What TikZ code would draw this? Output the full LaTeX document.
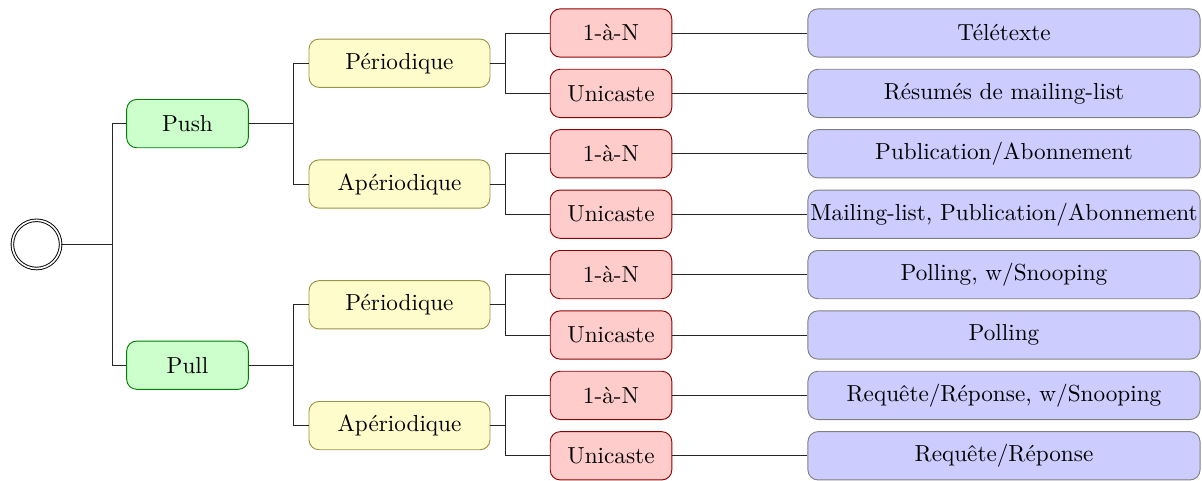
\documentclass[tikz,border=0pt]{standalone}
\usepackage{fontspec}
\begin{document}
\begin{tikzpicture}[x=0.431pt,y=-0.431pt,
  base/.style={rectangle,rounded corners=4.3pt,minimum height=20.8pt,inner sep=1pt,line width=0.4pt},
  lvlone/.style={base,fill=green!20,draw=green!50!black,minimum width=52.4pt},
  lvltwo/.style={base,fill=yellow!20,draw=yellow!55!black,minimum width=78pt},
  lvlthree/.style={base,fill=red!20,draw=red!55!black,minimum width=52.4pt},
  lvlfour/.style={base,fill=blue!20,draw=black!50,minimum width=169pt},
  conn/.style={draw=black!85,line width=0.4pt}]
\useasboundingbox (0,0) rectangle (1202,480);
\node[circle,draw,double,double distance=0.7pt,minimum size=20.8pt,inner sep=0pt] (root) at (36.5,244.4) {};
\node[lvlone] (push) at (187.5,123.6) {Push};
\node[lvlone] (pull) at (187.5,365.2) {Pull};
\node[lvltwo] (ya) at (399.5,63.2) {Périodique};
\node[lvltwo] (yb) at (399.5,184) {Apériodique};
\node[lvltwo] (yc) at (399.5,304.8) {Périodique};
\node[lvltwo] (yd) at (399.5,425.6) {Apériodique};
\foreach \i/\y/\t in {1/33/1-à-N,2/93.4/Unicaste,3/153.8/1-à-N,4/214.2/Unicaste,5/274.6/1-à-N,6/335/Unicaste,7/395.4/1-à-N,8/455.8/Unicaste}
  \node[lvlthree] (r\i) at (611,\y) {\t};
\node[lvlfour] (b1) at (1004,33) {Télétexte};
\node[lvlfour] (b2) at (1004,93.4) {Résumés de mailing-list};
\node[lvlfour] (b3) at (1004,153.8) {Publication/Abonnement};
\node[lvlfour] (b4) at (1004,214.2) {Mailing-list, Publication/Abonnement};
\node[lvlfour] (b5) at (1004,274.6) {Polling, w/Snooping};
\node[lvlfour] (b6) at (1004,335) {Polling};
\node[lvlfour] (b7) at (1004,395.4) {Requête/Réponse, w/Snooping};
\node[lvlfour] (b8) at (1004,455.8) {Requête/Réponse};
\coordinate (j0) at (112,244.4);
\coordinate (j1) at (293.3,123.6);
\coordinate (j2) at (293.3,365.2);
\coordinate (ja) at (505,63.2);
\coordinate (jb) at (505,184);
\coordinate (jc) at (505,304.8);
\coordinate (jd) at (505,425.6);
\draw[conn] (root.east) -- (j0) |- (push.west);
\draw[conn] (j0) |- (pull.west);
\draw[conn] (push.east) -- (j1) |- (ya.west);
\draw[conn] (j1) |- (yb.west);
\draw[conn] (pull.east) -- (j2) |- (yc.west);
\draw[conn] (j2) |- (yd.west);
\draw[conn] (ya.east) -- (ja) |- (r1.west);
\draw[conn] (ja) |- (r2.west);
\draw[conn] (yb.east) -- (jb) |- (r3.west);
\draw[conn] (jb) |- (r4.west);
\draw[conn] (yc.east) -- (jc) |- (r5.west);
\draw[conn] (jc) |- (r6.west);
\draw[conn] (yd.east) -- (jd) |- (r7.west);
\draw[conn] (jd) |- (r8.west);
\foreach \i in {1,...,8} \draw[conn] (r\i.east) -- (b\i.west);
\end{tikzpicture}
\end{document}
